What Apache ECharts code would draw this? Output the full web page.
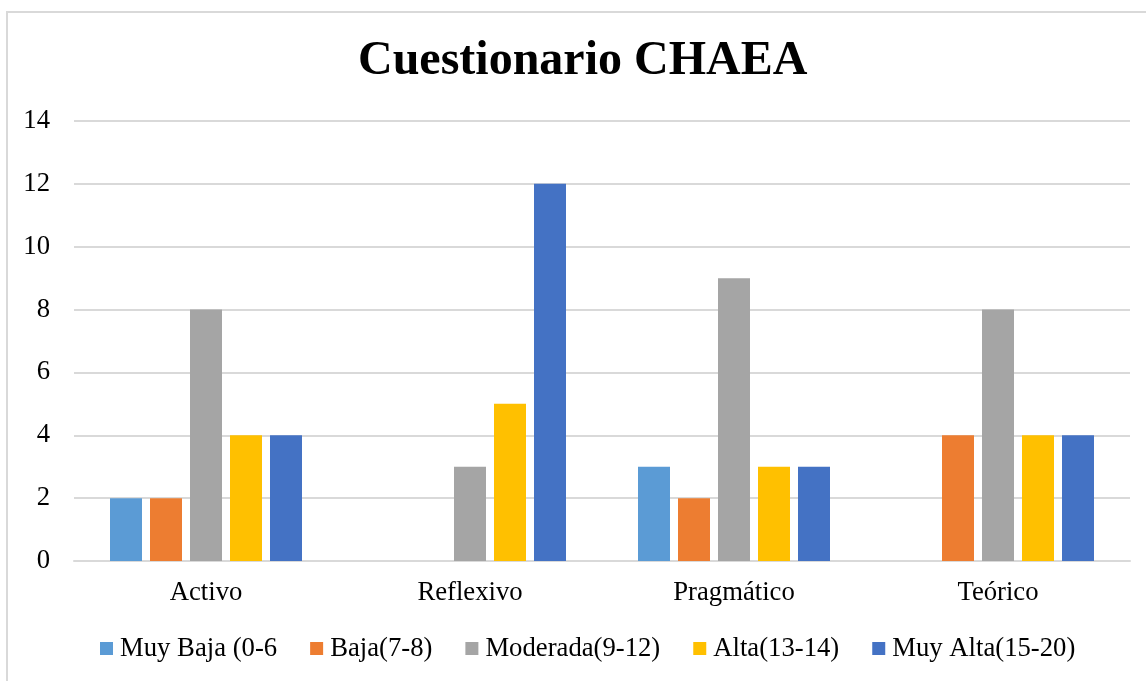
<!DOCTYPE html>
<html>
<head>
<meta charset="utf-8">
<title>Cuestionario CHAEA</title>
<script src="https://cdn.jsdelivr.net/npm/echarts@6/dist/echarts.min.js"></script>
<style>
  html, body { margin: 0; padding: 0; background: #ffffff; }
  #chart { width: 1146px; height: 681px; }
</style>
</head>
<body>
<div id="chart"></div>
<script>
// Learning-style categories of the CHAEA questionnaire
const categories = ['Activo', 'Reflexivo', 'Pragmático', 'Teórico'];

// Number of students per preference level
const muyBaja  = [2, 0, 3, 0];
const baja     = [2, 0, 2, 4];
const moderada = [8, 3, 9, 8];
const alta     = [4, 5, 3, 4];
const muyAlta  = [4, 12, 3, 4];

const seriesNames = ['Muy Baja (0-6', 'Baja(7-8)', 'Moderada(9-12)', 'Alta(13-14)', 'Muy Alta(15-20)'];
const seriesValues = [muyBaja, baja, moderada, alta, muyAlta];
const palette = ['#5B9BD5', '#ED7D31', '#A5A5A5', '#FFC000', '#4472C4'];

const yTicks = { min: 0, max: 14, interval: 2 };

const serif = "'Liberation Serif', 'Times New Roman', serif";
const textSize = 26.7;

const chart = echarts.init(document.getElementById('chart'), null, { renderer: 'canvas' });

chart.setOption({
  animation: false,
  backgroundColor: '#ffffff',
  color: palette,
  graphic: [{
    type: 'rect',
    silent: true,
    z: -10,
    shape: { x: 7, y: 12, width: 1200, height: 720 },
    style: { fill: 'none', stroke: '#d9d9d9', lineWidth: 2 }
  }],
  title: {
    text: 'Cuestionario CHAEA',
    left: 358,
    top: 38,
    padding: 0,
    textStyle: { fontFamily: serif, fontWeight: 'bold', fontSize: 48, color: '#000000' }
  },
  legend: {
    left: 100,
    top: 635,
    padding: 0,
    itemWidth: 13,
    itemHeight: 13,
    itemGap: 33,
    icon: 'rect',
    textStyle: { fontFamily: serif, fontSize: textSize, color: '#000000', padding: [0, 0, 0, 2] },
    data: seriesNames
  },
  grid: { left: 74, right: 16, top: 121, bottom: 120, containLabel: false },
  xAxis: {
    type: 'category',
    data: categories,
    axisLine: { show: true, lineStyle: { color: '#d9d9d9', width: 2 } },
    axisTick: { show: false },
    axisLabel: { fontFamily: serif, fontSize: textSize, color: '#000000', margin: 18 }
  },
  yAxis: {
    type: 'value',
    min: yTicks.min,
    max: yTicks.max,
    interval: yTicks.interval,
    axisLine: { show: false },
    axisTick: { show: false },
    splitLine: { lineStyle: { color: '#d9d9d9', width: 2 } },
    axisLabel: { fontFamily: serif, fontSize: textSize, color: '#000000', margin: 24 }
  },
  series: seriesNames.map((name, i) => ({
    name: name,
    type: 'bar',
    data: seriesValues[i],
    barWidth: 32,
    barGap: '25%',
    itemStyle: { color: palette[i] }
  }))
});
</script>
</body>
</html>
